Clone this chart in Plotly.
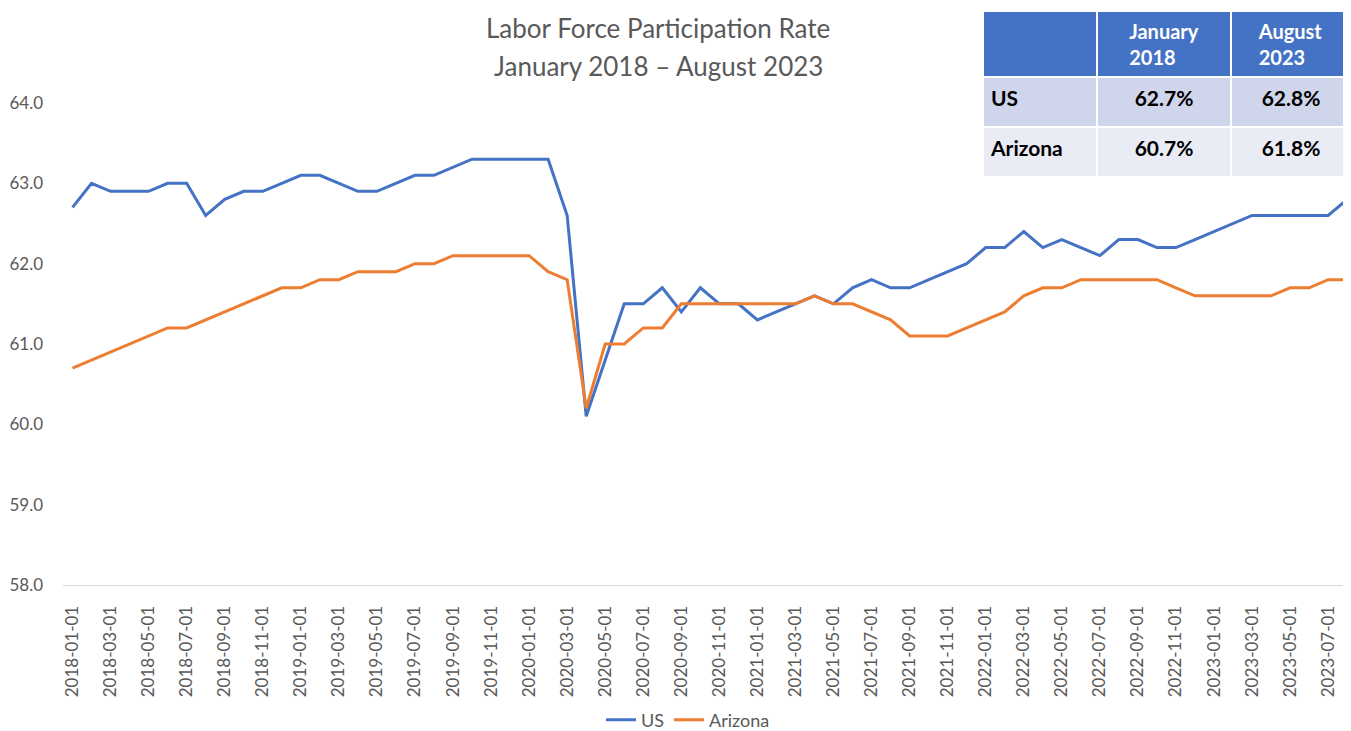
import plotly.graph_objects as go
import pandas as pd

# ---- data ----
dates = pd.date_range("2018-01-01", "2023-08-01", freq="MS").strftime("%Y-%m-%d").tolist()

us = [62.7, 63.0, 62.9, 62.9, 62.9, 63.0, 63.0, 62.6, 62.8, 62.9, 62.9, 63.0,
      63.1, 63.1, 63.0, 62.9, 62.9, 63.0, 63.1, 63.1, 63.2, 63.3, 63.3, 63.3,
      63.3, 63.3, 62.6, 60.1, 60.8, 61.5, 61.5, 61.7, 61.4, 61.7, 61.5, 61.5,
      61.3, 61.4, 61.5, 61.6, 61.5, 61.7, 61.8, 61.7, 61.7, 61.8, 61.9, 62.0,
      62.2, 62.2, 62.4, 62.2, 62.3, 62.2, 62.1, 62.3, 62.3, 62.2, 62.2, 62.3,
      62.4, 62.5, 62.6, 62.6, 62.6, 62.6, 62.6, 62.8]

arizona = [60.7, 60.8, 60.9, 61.0, 61.1, 61.2, 61.2, 61.3, 61.4, 61.5, 61.6, 61.7,
           61.7, 61.8, 61.8, 61.9, 61.9, 61.9, 62.0, 62.0, 62.1, 62.1, 62.1, 62.1,
           62.1, 61.9, 61.8, 60.2, 61.0, 61.0, 61.2, 61.2, 61.5, 61.5, 61.5, 61.5,
           61.5, 61.5, 61.5, 61.6, 61.5, 61.5, 61.4, 61.3, 61.1, 61.1, 61.1, 61.2,
           61.3, 61.4, 61.6, 61.7, 61.7, 61.8, 61.8, 61.8, 61.8, 61.8, 61.7, 61.6,
           61.6, 61.6, 61.6, 61.6, 61.7, 61.7, 61.8, 61.8]

tick_labels = dates[::2]
y_ticks = [58, 59, 60, 61, 62, 63, 64]

table_rows = ["US", "Arizona"]
table_header = ["", "January<br>2018", "August<br>2023"]
table_jan2018 = ["62.7%", "60.7%"]
table_aug2023 = ["62.8%", "61.8%"]

# ---- layout helpers ----
OFF = 8                      # page body margin of the browser
W, H = 1351 - OFF, 731 - OFF
PLOT_BOTTOM = 585 - OFF      # figure px where bottom margin starts
FONT = "Lato"
GRAY = "#595959"


def fy(py):
    """screen y px -> paper fraction (plot area spans full figure above margin)"""
    return (PLOT_BOTTOM - (py - OFF)) / PLOT_BOTTOM


def fx(px):
    return (px - OFF) / W


fig = go.Figure()

fig.add_trace(go.Scatter(x=dates, y=us, mode="lines", name="US",
                         line=dict(color="#4472C4", width=3)))
fig.add_trace(go.Scatter(x=dates, y=arizona, mode="lines", name="Arizona",
                         line=dict(color="#ED7D31", width=3)))

fig.add_trace(go.Table(
    domain=dict(x=[fx(983), 1.0], y=[fy(190), fy(11)]),
    columnwidth=[114, 134, 120],
    header=dict(
        values=[f"<b>{h}</b>" for h in table_header],
        fill_color="#4472C4",
        font=dict(family=FONT, size=20, color="white"),
        align=["left", "center", "center"],
        line=dict(color="white", width=2),
        height=66,
    ),
    cells=dict(
        values=[[f"<b>{r}</b>" for r in table_rows],
                [f"<b>{v}</b>" for v in table_jan2018],
                [f"<b>{v}</b>" for v in table_aug2023]],
        fill_color=[["#CFD5EA", "#E9EBF5"]] * 3,
        font=dict(family=FONT, size=21, color="black"),
        align=["left", "center", "center"],
        line=dict(color="white", width=2),
        height=50,
    ),
))

fig.update_layout(
    template="none",
    width=W, height=H,
    margin=dict(l=0, r=0, t=0, b=H - PLOT_BOTTOM, pad=0, autoexpand=False),
    paper_bgcolor="white", plot_bgcolor="white",
    font=dict(family=FONT, color=GRAY),
    showlegend=True,
    legend=dict(orientation="h", x=fx(688), xanchor="center",
                y=fy(720), yanchor="middle",
                font=dict(size=18, color=GRAY), itemwidth=30,
                bgcolor="rgba(0,0,0,0)"),
    xaxis=dict(
        type="category", domain=[fx(63), 1.0], range=[-0.5, 67.2],
        tickmode="array", tickvals=tick_labels, ticktext=tick_labels,
        tickangle=-90, tickfont=dict(size=17, color=GRAY),
        showgrid=False, zeroline=False, automargin=False,
        showline=True, linecolor="#D9D9D9", linewidth=1,
        ticks="", ticklabelstandoff=13,
    ),
    yaxis=dict(
        domain=[0, fy(103)], range=[58, 64],
        tickmode="array", tickvals=y_ticks, tickformat=".1f",
        tickfont=dict(size=17, color=GRAY), automargin=False,
        showgrid=False, zeroline=False, showline=False,
        ticks="", ticklabelstandoff=19,
    ),
    annotations=[
        dict(text="Labor Force Participation Rate", x=fx(658), y=fy(28),
             xref="paper", yref="paper", showarrow=False,
             font=dict(size=26, color=GRAY), xanchor="center", yanchor="middle"),
        dict(text="January 2018 \u2013 August 2023", x=fx(658), y=fy(66),
             xref="paper", yref="paper", showarrow=False,
             font=dict(size=26, color=GRAY), xanchor="center", yanchor="middle"),
    ],
)

fig.write_html("out.html")
